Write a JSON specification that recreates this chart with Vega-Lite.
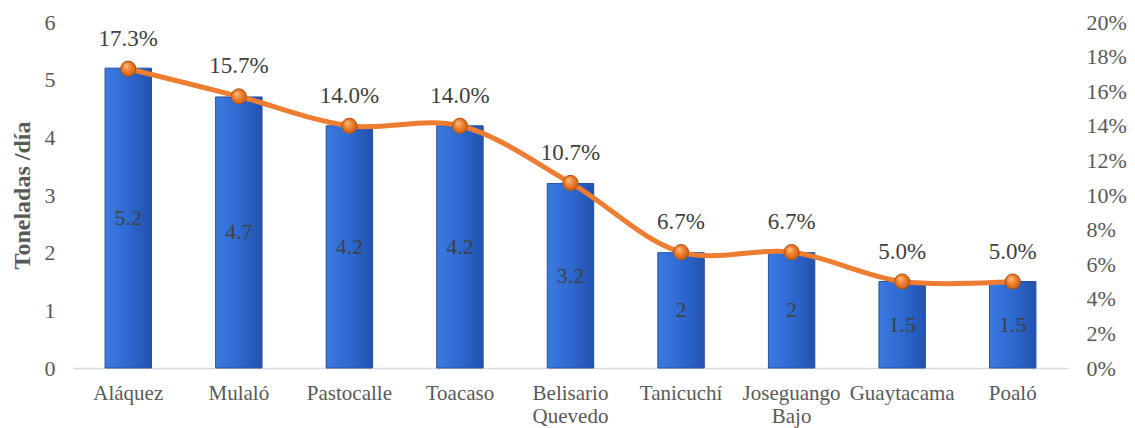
{
  "$schema": "https://vega.github.io/schema/vega-lite/v6.json",
  "width": 995,
  "height": 346,
  "autosize": {"type": "none"},
  "padding": {"left": 73, "top": 22, "right": 67, "bottom": 60},
  "background": "white",
  "config": {
    "view": {"stroke": null},
    "font": "Liberation Serif",
    "text": {"font": "Liberation Serif"},
    "axis": {"labelFont": "Liberation Serif", "titleFont": "Liberation Serif", "labelColor": "#595959", "titleColor": "#595959", "grid": false, "ticks": false, "domain": false, "labelOverlap": false}
  },
  "data": {"values": [
    {"parroquia": "Aláquez", "t": 5.2, "p": 0.173},
    {"parroquia": "Mulaló", "t": 4.7, "p": 0.157},
    {"parroquia": "Pastocalle", "t": 4.2, "p": 0.14},
    {"parroquia": "Toacaso", "t": 4.2, "p": 0.14},
    {"parroquia": "Belisario Quevedo", "t": 3.2, "p": 0.107},
    {"parroquia": "Tanicuchí", "t": 2, "p": 0.067},
    {"parroquia": "Joseguango Bajo", "t": 2, "p": 0.067},
    {"parroquia": "Guaytacama", "t": 1.5, "p": 0.05},
    {"parroquia": "Poaló", "t": 1.5, "p": 0.05}
  ]},
  "encoding": {
    "x": {"field": "parroquia", "type": "nominal", "sort": null, "title": null,
      "scale": {"paddingInner": 0.58, "paddingOuter": 0.29},
      "axis": {"labelAngle": 0, "labelFontSize": 21, "labelPadding": 14, "labelExpr": "split(datum.value, ' ')", "labelLineHeight": 23, "domain": true, "domainColor": "#d9d9d9", "domainWidth": 1.5}}
  },
  "layer": [
    {
      "mark": {"type": "bar", "stroke": "#24509e", "strokeWidth": 1,
        "fill": {"gradient": "linear", "x1": 0, "y1": 0, "x2": 1, "y2": 0, "stops": [{"offset": 0, "color": "#3b7ae0"}, {"offset": 0.5, "color": "#2e69d0"}, {"offset": 1, "color": "#2252ae"}]}},
      "encoding": {
        "y": {"field": "t", "type": "quantitative", "scale": {"domain": [0, 6]}, "title": "Toneladas /día",
          "axis": {"orient": "left", "values": [0,1,2,3,4,5,6], "labelFontSize": 22, "labelPadding": 18, "titleFontSize": 24, "titleFontWeight": "bold", "titlePadding": 10}}
      }
    },
    {
      "mark": {"type": "text", "fontSize": 22, "font": "Liberation Serif", "color": "#404040", "baseline": "middle"},
      "encoding": {
        "y": {"field": "t", "type": "quantitative", "scale": {"domain": [0, 12]}, "axis": null},
        "text": {"field": "t", "type": "quantitative"}
      }
    },
    {
      "mark": {"type": "line", "interpolate": "catmull-rom", "color": "#ED7D31", "strokeWidth": 5},
      "encoding": {
        "y": {"field": "p", "type": "quantitative", "scale": {"domain": [0, 0.2]}, "title": null,
          "axis": {"orient": "right", "format": ".0%", "values": [0,0.02,0.04,0.06,0.08,0.1,0.12,0.14,0.16,0.18,0.2], "labelFontSize": 22, "labelPadding": 18}}
      }
    },
    {
      "mark": {"type": "point", "filled": true, "size": 230, "stroke": "#b5520f", "strokeWidth": 1, "opacity": 1,
        "fill": {"gradient": "radial", "x1": 0.35, "y1": 0.3, "r1": 0, "x2": 0.5, "y2": 0.5, "r2": 0.6, "stops": [{"offset": 0, "color": "#ffc08a"}, {"offset": 0.5, "color": "#ee7d2b"}, {"offset": 1, "color": "#c0580f"}]}},
      "encoding": {
        "y": {"field": "p", "type": "quantitative", "scale": {"domain": [0, 0.2]}, "axis": null}
      }
    },
    {
      "mark": {"type": "text", "fontSize": 23, "font": "Liberation Serif", "color": "#404040", "baseline": "bottom", "dy": -18},
      "encoding": {
        "y": {"field": "p", "type": "quantitative", "scale": {"domain": [0, 0.2]}, "axis": null},
        "text": {"field": "p", "type": "quantitative", "format": ".1%"}
      }
    }
  ],
  "resolve": {"scale": {"y": "independent"}}
}
